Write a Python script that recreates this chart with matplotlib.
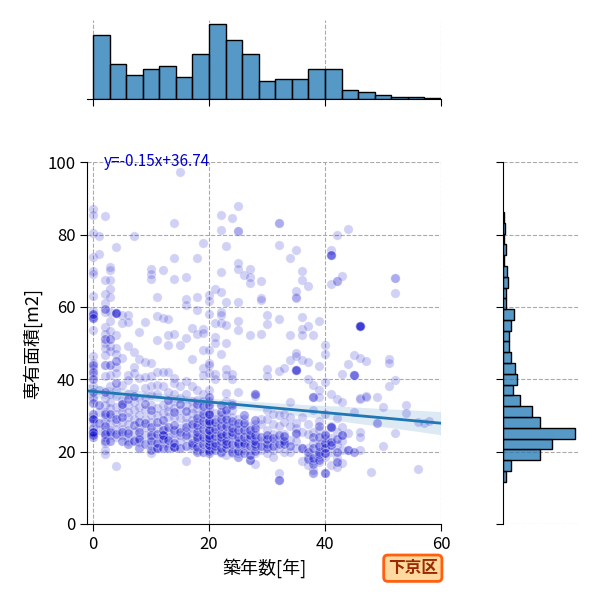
import numpy as np
import matplotlib
matplotlib.use("Agg")
import matplotlib.pyplot as plt
import seaborn as sns

# built age (years) for each column of points, and the floor areas (m2) seen in that column
age_cols = list(range(0, 53)) + [54, 56, 57, 58]
area_cols = [
    [87, 85.4, 80.4, 73.7, 69.8, 69.1, 63, 59, 57.6, 56.9, 53.6, 46.3, 44.4, 43, 41.2, 38, 35.2,
     34.5, 29.7, 29.0, 28.3, 25.5, 25.1, 25.1, 24.1, 24.1],  # 0
    [79.6, 74.6, 37, 31.0, 26.0],
    [85.2, 67.3, 63.7, 61, 58.7, 54.5, 52.4, 50, 48.6, 46.7, 40.8, 34.7, 32.9, 31, 29.7, 28.3, 26,
     24.1, 22.3, 20.5, 19.3],
    [71.1, 70.2, 67.5, 65, 62.8, 58.6, 56, 53.4, 49.2, 47.9, 41.2, 38, 36, 33.8, 32, 29.7, 27.9,
     26, 24.7],
    [76.6, 58.2, 58.2, 58.2, 52.3, 48.6, 47.1, 43.5, 41.7, 37, 35.5, 32.4, 30.5, 28.3, 26.3, 24,
     16.1],
    [57.8, 55.5, 45.8, 38.5, 34.3, 32.4, 31, 28.3, 26.3, 24.5],
    [57.8, 55.9, 49.2, 41.2, 39.7, 36, 32.9, 31, 29.7, 27.5, 26, 24, 22.8],
    [79.5, 47.4, 43.5, 41.7, 37.5, 33.8, 31.4, 29.1, 25.4, 23.1],
    [53, 45.5, 40.4, 34.7, 32.4, 30.1, 26.4, 24.1, 22.7],
    [55.8, 44.9, 40.6, 37.5, 35, 31.4, 29.1, 26.8, 24.5],
    [70.4, 69.1, 67.8, 44.4, 41, 38, 35.7, 33, 30.2, 28.3, 25.5, 24.1, 21.8, 19.5],  # 10
    [62.8, 57.6, 50.9, 42, 38.4, 36, 32.1, 30.2, 26.5, 23.8, 21, 21],
    [70.2, 56.9, 42, 38.2, 33, 30.6, 27, 24.6, 24.6, 22.4],
    [56.7, 52.2, 49.5, 42, 36.5, 32.5, 31.1, 29.7, 25.6, 24.1, 22.3],
    [83.1, 73.5, 67.6, 52.5, 40.4, 39, 36, 33.9, 32.1, 29.7, 25.1, 23.7, 21.4, 21.4],
    [97.2, 49.5, 38, 34.8, 31.6, 29.3, 26.5, 24.6, 22.8],
    [68.2, 62.2, 60.5, 51.3, 39.5, 36, 33, 29.7, 27.9, 25.6, 23.7, 17.5],
    [54.1, 45.5, 38, 33.9, 32.1, 30.7, 28.8, 26.5, 25.1, 23.7, 20.9],
    [73.5, 62.6, 59.2, 52.5, 37, 34.4, 32.1, 30.2, 28.3, 26.5, 24.6, 22.3, 20.5],
    [77.7, 54, 52.7, 48.1, 43, 41.2, 36, 34, 31.5, 29.5, 27.5, 25, 23, 21],
    [63.3, 61.5, 58, 48.1, 44.4, 44, 41.7, 36.9, 33.9, 32, 31, 30, 29, 28, 27, 26, 25, 24.2, 22.4,
     21.5, 20.6, 20.6],  # 20
    [65, 55.5, 51.8, 49.9, 41.5, 40.1, 30.8, 29, 27.2, 25.3, 23.5, 21.2],
    [85.4, 81.3, 69.7, 64.1, 58.7, 57.8, 55.5, 47, 30, 28, 26, 24, 22, 19.5],
    [76.8, 61.4, 55, 49.9, 42.9, 41.1, 36.2, 34, 32, 30, 28, 26, 24, 22, 19],
    [84.5, 41.5, 40, 33.5, 31.5, 29.5, 27.5, 25.5, 23.5, 21, 19.5],
    [87.9, 81, 81, 72.2, 70.4, 61.3, 56, 53.7, 36.4, 29, 27, 25, 23, 21, 19.5],
    [68.7, 29, 27, 25, 23, 20.5],
    [70.4, 68.2, 66.5, 52.3, 27, 25, 22.8, 20.5, 17.7],
    [36, 35.5, 27.5, 25.5, 23.5, 19.5, 16.5],
    [67.2, 62.4, 61.9, 52.4, 29, 27.5, 22.8, 20.5],
    [57.8, 55.2, 42.8, 41, 31.5, 29, 26, 23.5, 21.5, 19.5],  # 30
    [30.5, 27.5, 25, 22.8, 20.5, 18.5],
    [83.1, 83.1, 77, 56.7, 42.2, 30, 27, 23.3, 21, 14, 12.2],
    [43, 30.5, 28.3, 25, 22.3, 20],
    [73.5, 52.2, 45.2, 33.8, 29.5, 27, 23.3, 20],
    [75.6, 64.4, 62.7, 62.4, 47.2, 46.4, 42.6, 42.6, 28, 26.5, 25, 23, 21],
    [70, 67.3, 57.3, 53.8, 52.3, 45.2, 29.5, 25.5, 21, 17.5],
    [65.8, 54.7, 44.7, 40, 27.5, 25, 21, 18.5, 16.3],
    [52.3, 38.5, 35, 31.5, 25.5, 22.5, 19, 17.5, 15],
    [56, 43.8, 37, 35, 28.5, 26, 22, 18.5, 17],
    [49.5, 46.9, 39.2, 30.5, 25, 23.7, 22.3, 20.9, 19.5, 18.6, 14],  # 40
    [75.7, 74.4, 74.4, 66.4, 35.9, 27, 26.9, 26.9, 23.7, 21.8, 20, 16.3],
    [79.9, 67.2, 67.2, 34.5, 29.2, 25.5, 21.8, 18.2, 15.8],
    [68.6, 41.4, 33.8, 26.9, 24.6, 22.8, 20.5, 16.8],
    [81.5, 44.2, 25.1, 20.5],
    [46.7, 41.2, 41.2, 31],
    [54.6, 54.6, 54.6, 54.6, 54.6, 46, 34.8, 34.5, 25.5, 24.1, 20.5],
    [45.1, 35.3, 35],
    [14.3],
    [35, 27.8, 27.8],
    [32.3, 21.5],  # 50
    [45.5, 44.4, 38.2],
    [68, 68, 63.8, 39.8, 25.1],
    [32.9, 30.6],
    [15.2, 28.3],
    [27.8],
    [28.5],
]

# darker (overlapped) spots: (age, area, how many units stacked there)
overlap_spots = [
    (0, 58, 3), (0, 57, 2), (0, 44, 2), (0, 42, 2), (0, 40, 2), (0, 36.5, 2), (0, 33.5, 2),
    (0, 30.5, 2), (0, 29, 3), (0, 26.5, 2), (0, 25.3, 3), (0, 24.5, 2),
    (1, 28, 2), (1, 33, 2),
    (2, 59.5, 2), (2, 51, 2), (2, 44, 2), (2, 36.5, 2), (2, 30.5, 2), (2, 27, 2), (2, 25, 3),
    (2, 23, 2),
    (3, 51, 2), (3, 44, 2), (3, 30.5, 2), (3, 25.5, 2), (3, 23, 2),
    (4, 58.2, 2), (4, 45, 2), (4, 39, 2), (4, 29, 2), (4, 25, 2),
    (5, 33.3, 3), (5, 29.5, 2), (5, 25.5, 2), (5, 23, 2),
    (6, 34.5, 2), (6, 25.2, 2), (6, 22, 2), (7, 35.5, 2), (7, 27.3, 2), (7, 23, 2),
    (8, 28.3, 2), (8, 25.3, 2), (8, 23.5, 2), (8, 21, 2),
    (9, 33.2, 2), (9, 27.9, 2), (9, 22, 2),
    (10, 31.6, 2), (10, 26.8, 2), (10, 24.5, 2), (10, 22.9, 2), (10, 20.5, 2),
    (11, 21, 2), (11, 22.5, 2), (11, 25, 2), (11, 28.3, 2),
    (12, 21, 2), (12, 24.6, 3), (12, 23.5, 2), (12, 26, 2), (12, 28.8, 2),
    (13, 21, 2), (13, 23.2, 2), (13, 26.8, 2), (13, 34.2, 2),
    (14, 21.4, 3), (14, 22.5, 2), (14, 26, 2), (14, 27.4, 2), (14, 30.9, 2),
    (15, 21, 2), (15, 25.5, 2), (15, 33.3, 2),
    (16, 21.5, 2), (16, 24.6, 2), (16, 26.8, 2), (16, 31.3, 2),
    (17, 21.8, 2), (17, 22.5, 2), (17, 27.6, 2),
    (18, 20, 2), (18, 21.4, 2), (18, 23.4, 2), (18, 24, 2), (18, 25.5, 2), (18, 27.4, 2),
    (18, 29.2, 2), (18, 33.2, 2),
    (19, 20, 2), (19, 22, 2), (19, 24, 2), (19, 26.2, 2), (19, 28.5, 2), (19, 30.5, 2),
    (19, 32.5, 2),
    (20, 19.5, 2), (20, 20.2, 2), (20, 21.7, 3), (20, 22.9, 2), (20, 23.8, 3), (20, 24.5, 2),
    (20, 26, 3), (20, 27.5, 2), (20, 28.5, 3), (20, 30.5, 3), (20, 32.9, 2), (20, 35, 2),
    (21, 20.5, 2), (21, 21.5, 2), (21, 22.3, 2), (21, 24.4, 2), (21, 26.3, 2), (21, 28.1, 2),
    (22, 20, 2), (22, 21, 2), (22, 23, 2), (22, 24, 2), (22, 25, 2), (22, 27, 2), (22, 29, 2),
    (22, 31, 2), (22, 33, 2),
    (23, 21, 2), (23, 22, 2), (23, 23, 2), (23, 25, 2), (23, 27, 2), (23, 29, 2), (23, 31.5, 2),
    (24, 20, 2), (24, 22.2, 2), (24, 24.5, 2), (24, 25.5, 2), (24, 26.5, 2), (24, 28.5, 2),
    (24, 32.8, 2),
    (25, 18.5, 2), (25, 20.2, 2), (25, 22, 2), (25, 22.5, 2), (25, 24, 2), (25, 26, 2),
    (25, 27.8, 2),
    (26, 19.5, 2), (26, 21.7, 2), (26, 22.5, 2), (26, 24, 2), (26, 26, 2), (26, 28, 2),
    (26, 30, 2),
    (27, 17.7, 2), (27, 19, 2), (27, 21.6, 2), (27, 23.9, 2), (27, 24.5, 2), (27, 26, 2),
    (28, 20.2, 2), (28, 21.5, 2), (28, 22.2, 2), (28, 23, 2), (28, 24.5, 2), (28, 26.5, 2),
    (28, 28.8, 2), (28, 35.9, 2),
    (29, 21.6, 2), (29, 24, 2), (30, 21, 2), (30, 22, 2), (30, 23.5, 2), (30, 24.7, 2),
    (31, 21.5, 2), (31, 23.9, 2), (32, 12.2, 2), (32, 22, 2), (32, 24.5, 2),
    (33, 22, 2), (33, 23, 2), (33, 24.2, 2), (34, 21.6, 2),
    (35, 25.1, 2), (35, 42.6, 3), (36, 21, 2), (37, 18, 2), (37, 20, 2),
    (38, 14, 2), (38, 16.6, 2), (38, 18.2, 2), (38, 21, 2), (38, 24, 2), (38, 35.2, 2),
    (39, 17.7, 2), (39, 19.3, 2), (39, 20, 2), (39, 21.6, 2), (39, 24, 2), (39, 27.2, 2),
    (40, 14.2, 2), (40, 19.5, 2), (40, 20.9, 2), (40, 22.3, 2), (40, 24.5, 2),
    (41, 21.8, 2), (41, 22.7, 2), (41, 26.9, 2), (41, 74.4, 2),
    (42, 17, 2), (42, 20, 2), (42, 23.6, 2),
    (43, 24.6, 2), (44, 20.5, 2), (45, 20, 2), (45, 41.1, 2), (46, 54.6, 2),
]

# marginal histogram counts
age_bin_lo, age_bin_hi = 0, 60
age_counts = [159, 87, 59, 74, 82, 54, 112, 187, 147, 112, 45, 49, 49, 74, 74, 22, 17, 9, 4, 4, 2]
area_bin_lo, area_bin_step = 11.7, 2.98
area_counts = [11, 32, 155, 204, 299, 155, 118, 68, 40, 56, 48, 32, 22, 22, 32, 44, 11, 11, 19,
               15, 4, 11, 4, 7, 3]

slope, intercept = -0.15, 36.74
ward = "下京区"

ages = np.concatenate([[a] * len(c) for a, c in zip(age_cols, area_cols)]
                      + [[a] * n for a, _, n in overlap_spots]).astype(float)
areas = np.concatenate(area_cols + [[v] * n for _, v, n in overlap_spots]).astype(float)

plt.rcParams["font.family"] = ["Noto Sans CJK JP", "DejaVu Sans"]

fig = plt.figure(figsize=(6, 6), dpi=100)
ax = fig.add_axes([0.1455, 0.1267, 0.5895, 0.603])
ax_top = fig.add_axes([0.1455, 0.835, 0.5895, 0.132], sharex=ax)
ax_right = fig.add_axes([0.839, 0.1267, 0.125, 0.603], sharey=ax)

ax.set_xlim(-1, 60)
ax.set_ylim(0, 100)

grid_kw = dict(color="#aaaaaa", linestyle="--", linewidth=0.8)

ax.scatter(ages, areas, s=45, color="mediumblue", alpha=0.18,
           edgecolors="white", linewidths=0.8, zorder=2)
sns.regplot(x=ages, y=areas, scatter=False, ax=ax, truncate=False, seed=0,
            color="#1f77b4", line_kws={"lw": 2})
ax.set_xlim(-1, 60)
ax.set_ylim(0, 100)
ax.text(1.8, 100.3, f"y={slope}x+{intercept}", color="mediumblue", fontsize=11, va="center")

ax.set_xticks([0, 20, 40, 60])
ax.set_yticks([0, 20, 40, 60, 80, 100])
ax.tick_params(labelsize=12, length=5)
ax.grid(True, **grid_kw)
ax.set_axisbelow(True)
ax.spines[["top", "right"]].set_visible(False)
ax.set_xlabel("築年数[年]", fontsize=13)
ax.set_ylabel("専有面積[m2]", fontsize=13)

hist_face = (0.122, 0.467, 0.706, 0.75)

age_edges = np.linspace(age_bin_lo, age_bin_hi, len(age_counts) + 1)
ax_top.bar(age_edges[:-1], age_counts, width=np.diff(age_edges), align="edge",
           color=hist_face, edgecolor="black", linewidth=1, zorder=2)
ax_top.set_yticks([])
ax_top.grid(True, axis="x", **grid_kw)
ax_top.spines[["top", "right", "left"]].set_visible(False)
ax_top.tick_params(labelbottom=False, length=5)

area_edges = area_bin_lo + area_bin_step * np.arange(len(area_counts) + 1)
ax_right.barh(area_edges[:-1], area_counts, height=np.diff(area_edges), align="edge",
              color=hist_face, edgecolor="black", linewidth=1, zorder=2)
ax_right.set_xticks([])
ax_right.grid(True, axis="y", **grid_kw)
ax_right.spines[["top", "right", "bottom"]].set_visible(False)
ax_right.tick_params(labelleft=False, length=5)

fig.text(0.688, 0.053, ward, fontsize=12, fontweight="bold", color="#9a2a00",
         ha="center", va="center",
         bbox=dict(boxstyle="round,pad=0.25", fc="#ffd9a0", ec="#ff5f0f", lw=2))

fig.savefig("out.png", dpi=100)
